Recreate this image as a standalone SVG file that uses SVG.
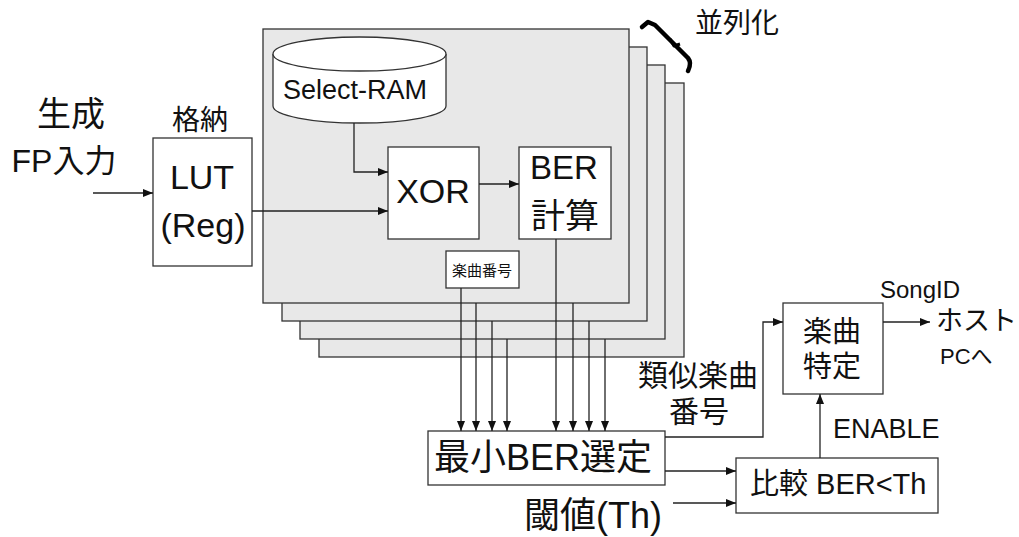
<svg xmlns="http://www.w3.org/2000/svg" width="1019" height="537" viewBox="0 0 1019 537">
<style>
text{font-family:"Liberation Sans","Noto Sans CJK JP",sans-serif;fill:#111}
.panel{fill:#e8e8e8;stroke:#333;stroke-width:1.3}
.box{fill:#fff;stroke:#333;stroke-width:1.3}
.ln{fill:none;stroke:#222;stroke-width:1.3}
.c{text-anchor:middle}
</style>
<defs>
<marker id="ah" viewBox="0 0 10 8" refX="10" refY="4" markerWidth="11" markerHeight="8" markerUnits="userSpaceOnUse" orient="auto">
<path d="M0,0 L10,4 L0,8 Z" fill="#111"/>
</marker>
</defs>
<rect width="1019" height="537" fill="#fff"/>

<g id="panels">
<rect class="panel" x="319" y="83" width="365" height="274"/>
<rect class="panel" x="300" y="65" width="365" height="274"/>
<rect class="panel" x="282" y="47" width="365" height="274"/>
<rect class="panel" x="263" y="29" width="366" height="274"/>
</g>

<g id="parallel">
<path d="M642,27 L648,22 L655,25 L688,58 Q692,63 688,71" fill="none" stroke="#000" stroke-width="4.5" stroke-linejoin="round" stroke-linecap="round"/>
<path d="M670,39 L674,46 L680,44" fill="none" stroke="#000" stroke-width="3" stroke-linejoin="round"/>
<text x="695" y="33" font-size="28">並列化</text>
</g>

<g id="input-label">
<text class="c" x="71" y="126" font-size="34">生成</text>
<text class="c" x="64" y="172" font-size="32">FP入力</text>
</g>

<g id="lut">
<text class="c" x="200" y="130" font-size="28">格納</text>
<rect class="box" x="153" y="138" width="99" height="128"/>
<text class="c" x="202" y="189" font-size="34">LUT</text>
<text class="c" x="203" y="237" font-size="34">(Reg)</text>
</g>

<g id="select-ram">
<path class="box" d="M273,54 L273,106 A86.5,17 0 0 0 446,106 L446,54"/>
<ellipse class="box" cx="359.5" cy="54" rx="86.5" ry="17"/>
<text class="c" x="355" y="99" font-size="27">Select-RAM</text>
</g>

<g id="xor">
<rect class="box" x="388" y="147" width="91" height="92"/>
<text class="c" x="433" y="203" font-size="34">XOR</text>
</g>

<g id="ber">
<rect class="box" x="519" y="147" width="92" height="92"/>
<text class="c" x="564" y="179" font-size="33">BER</text>
<text class="c" x="565" y="228" font-size="34">計算</text>
</g>

<g id="song-no">
<rect class="box" x="446" y="251" width="73" height="37"/>
<text class="c" x="482" y="276" font-size="15">楽曲番号</text>
</g>

<g id="min-ber">
<rect class="box" x="428" y="431" width="237" height="54"/>
<text class="c" x="543" y="470" font-size="36">最小BER選定</text>
</g>

<g id="threshold">
<text x="524" y="528" font-size="36">閾値(Th)</text>
</g>

<g id="compare">
<rect class="box" x="736" y="458" width="202" height="55"/>
<text x="750" y="494" font-size="29">比較 BER&lt;Th</text>
</g>

<g id="song-id">
<rect class="box" x="783" y="303" width="100" height="91"/>
<text class="c" x="832" y="342" font-size="29">楽曲</text>
<text class="c" x="832" y="377" font-size="29">特定</text>
</g>

<g id="host">
<text x="880" y="298" font-size="24">SongID</text>
<text x="936" y="330" font-size="27">ホスト</text>
<text x="940" y="364" font-size="22">PCへ</text>
</g>

<g id="labels">
<text x="638" y="386" font-size="30">類似楽曲</text>
<text class="c" x="699" y="422" font-size="30">番号</text>
<text x="833" y="438" font-size="27">ENABLE</text>
</g>

<g id="connectors">
<path class="ln" d="M93,193 L153,193" marker-end="url(#ah)"/>
<path class="ln" d="M252,211 L388,211" marker-end="url(#ah)"/>
<path class="ln" d="M354,123 L354,172 L388,172" marker-end="url(#ah)"/>
<path class="ln" d="M479,184 L519,184" marker-end="url(#ah)"/>
<path class="ln" d="M461,288 L461,431" marker-end="url(#ah)"/>
<path class="ln" d="M476,303 L476,431" marker-end="url(#ah)"/>
<path class="ln" d="M492,321 L492,431" marker-end="url(#ah)"/>
<path class="ln" d="M507,339 L507,431" marker-end="url(#ah)"/>
<path class="ln" d="M556,239 L556,431" marker-end="url(#ah)"/>
<path class="ln" d="M573,303 L573,431" marker-end="url(#ah)"/>
<path class="ln" d="M589,321 L589,431" marker-end="url(#ah)"/>
<path class="ln" d="M605,339 L605,431" marker-end="url(#ah)"/>
<path class="ln" d="M665,437 L763,437 L763,322 L783,322" marker-end="url(#ah)"/>
<path class="ln" d="M665,471 L736,471" marker-end="url(#ah)"/>
<path class="ln" d="M673,503 L736,503" marker-end="url(#ah)"/>
<path class="ln" d="M820,458 L820,394" marker-end="url(#ah)"/>
<path class="ln" d="M883,322 L930,322" marker-end="url(#ah)"/>
</g>
</svg>
